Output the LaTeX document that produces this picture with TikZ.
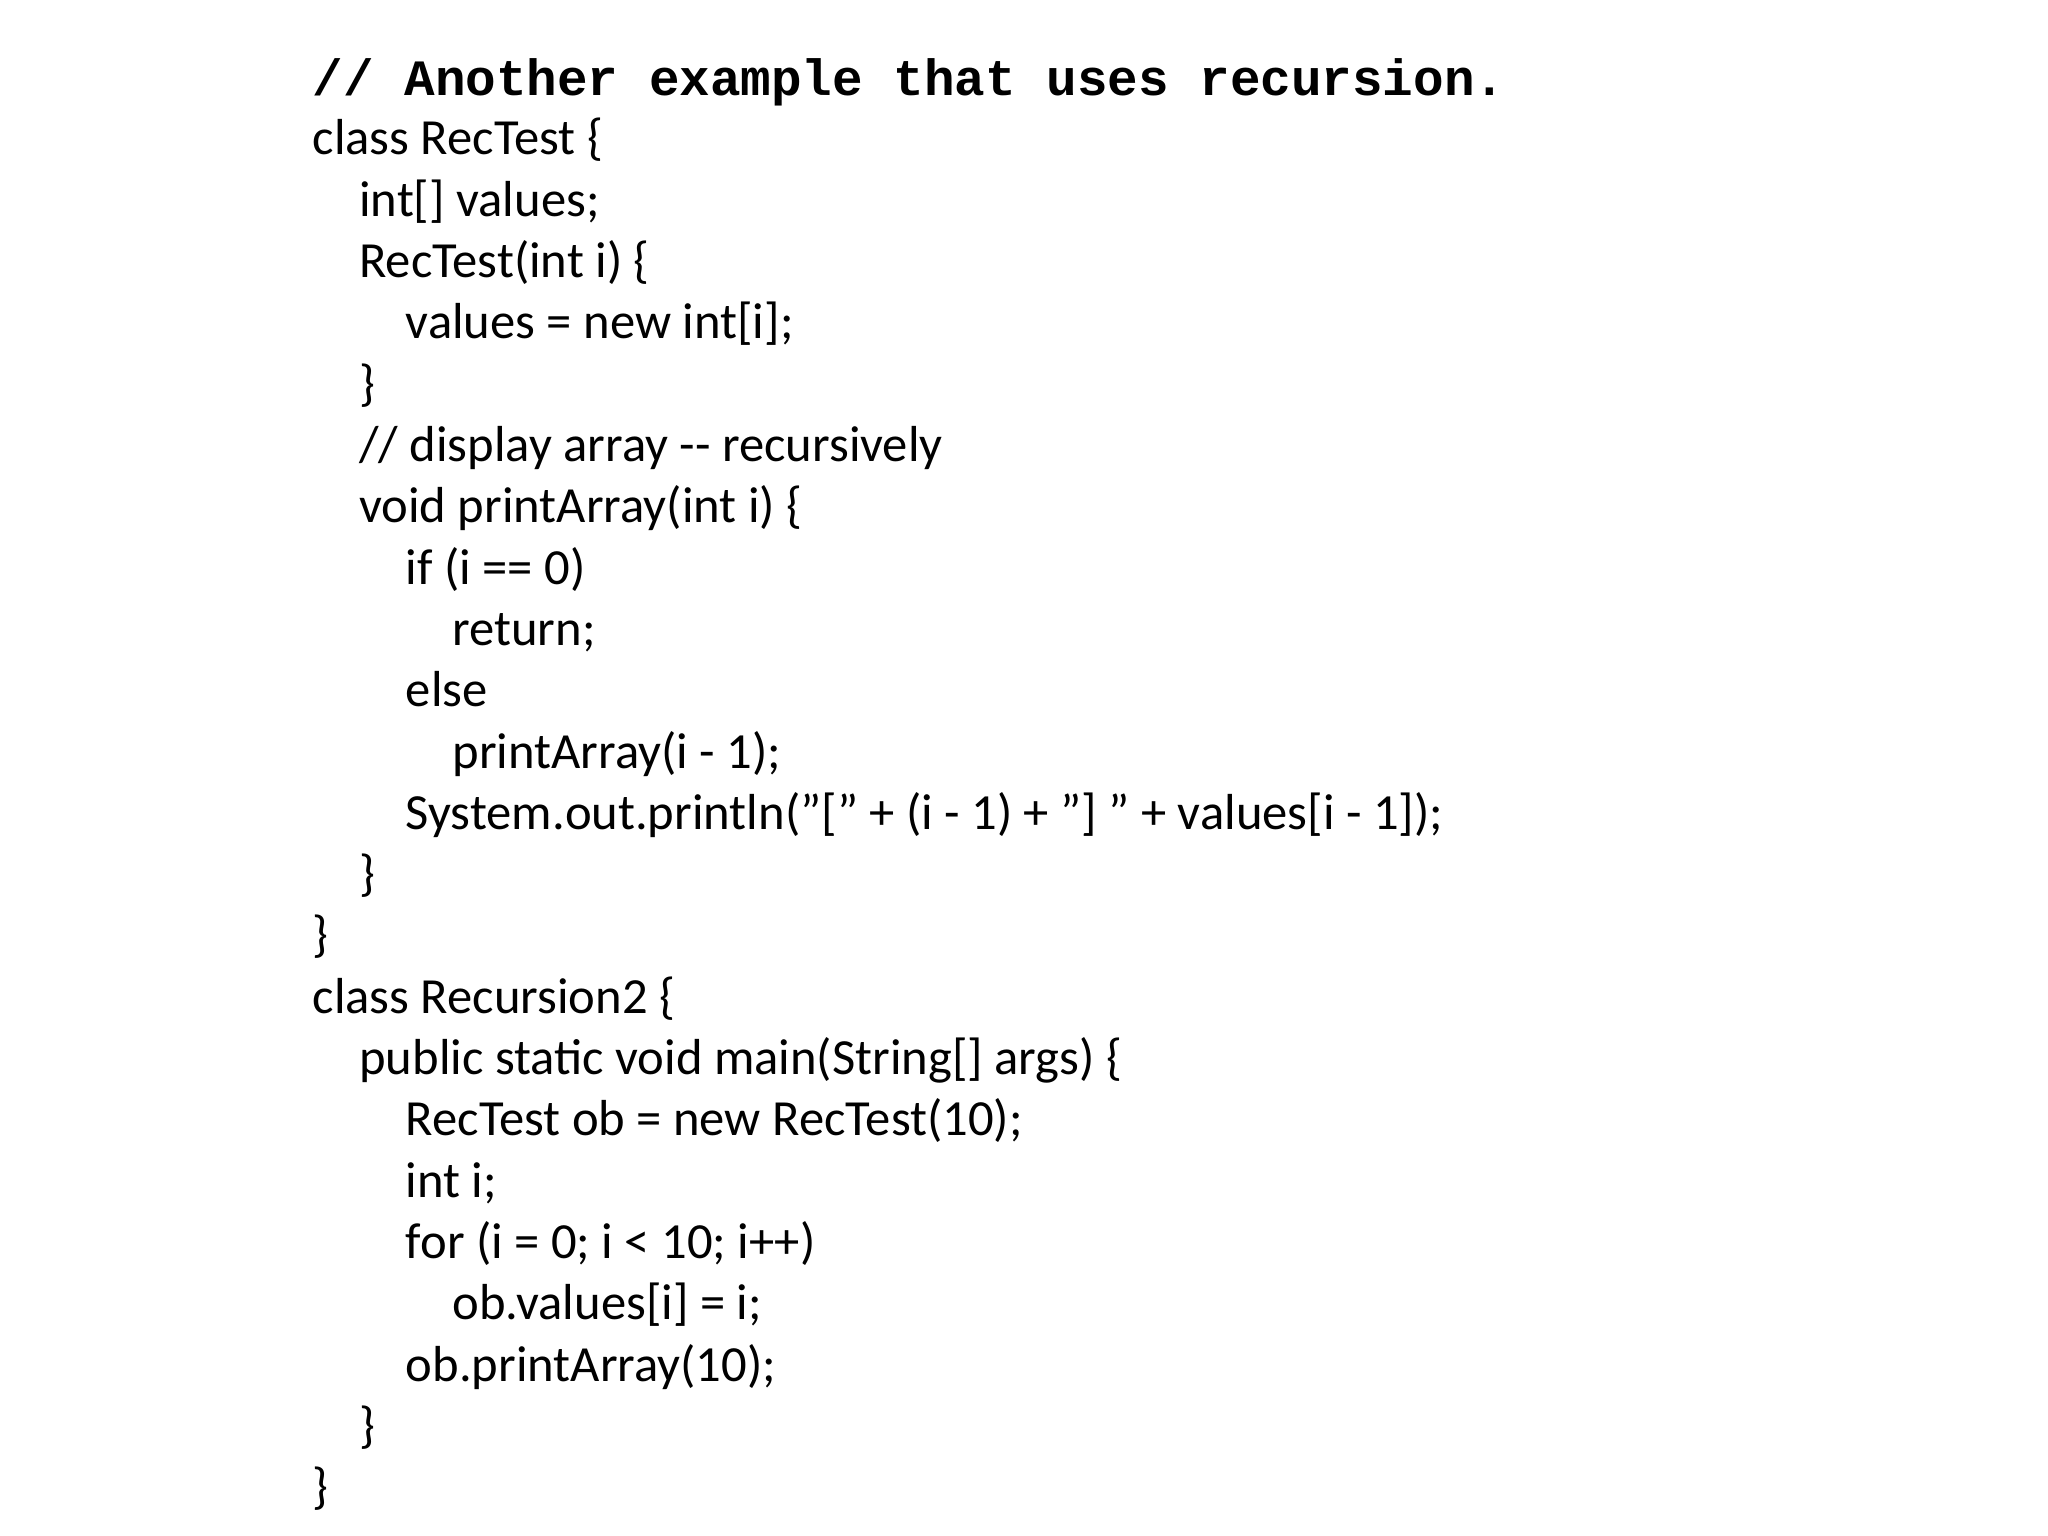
\documentclass[tikz,border=0pt]{standalone}
\usepackage{fontspec}
\setmainfont{Carlito}
\newfontfamily\codemono{Liberation Mono}
\begin{document}
\begin{tikzpicture}[x=1cm,y=1cm,codeline/.style={anchor=base west,inner sep=0pt,font=\fontsize{14.4pt}{16pt}\selectfont}]
\useasboundingbox (0,0) rectangle (20.48,-15.36);
\node[anchor=base west,inner sep=0pt,font=\codemono\bfseries\fontsize{14.5pt}{16pt}\selectfont] (l1) at (3.12,-0.96) {// Another example that uses recursion.};
\def\ind{0.466}
\def\pitch{0.613}
\def\q{\char34 }
\foreach \t/\lv [count=\k] in {
 {class RecTest \{}/0,
 {int[] values;}/1,
 {RecTest(int i) \{}/1,
 {values = new int[i];}/2,
 {\}}/1,
 {// display array -{}- recursively}/1,
 {void printArray(int i) \{}/1,
 {if (i == 0)}/2,
 {return;}/3,
 {else}/2,
 {printArray(i - 1);}/3,
 {System.out.println(\q[\q{} + (i - 1) + \q] \q{} + values[i - 1]);}/2,
 {\}}/1,
 {\}}/0,
 {class Recursion2 \{}/0,
 {public static void main(String[] args) \{}/1,
 {RecTest ob = new RecTest(10);}/2,
 {int i;}/2,
 {for (i = 0; i < 10; i++)}/2,
 {ob.values[i] = i;}/3,
 {ob.printArray(10);}/2,
 {\}}/1,
 {\}}/0}
 { \node[codeline] (c\k) at ({3.12+\lv*\ind},{-1.55-(\k-1)*\pitch}) {\t}; }
\end{tikzpicture}
\end{document}
